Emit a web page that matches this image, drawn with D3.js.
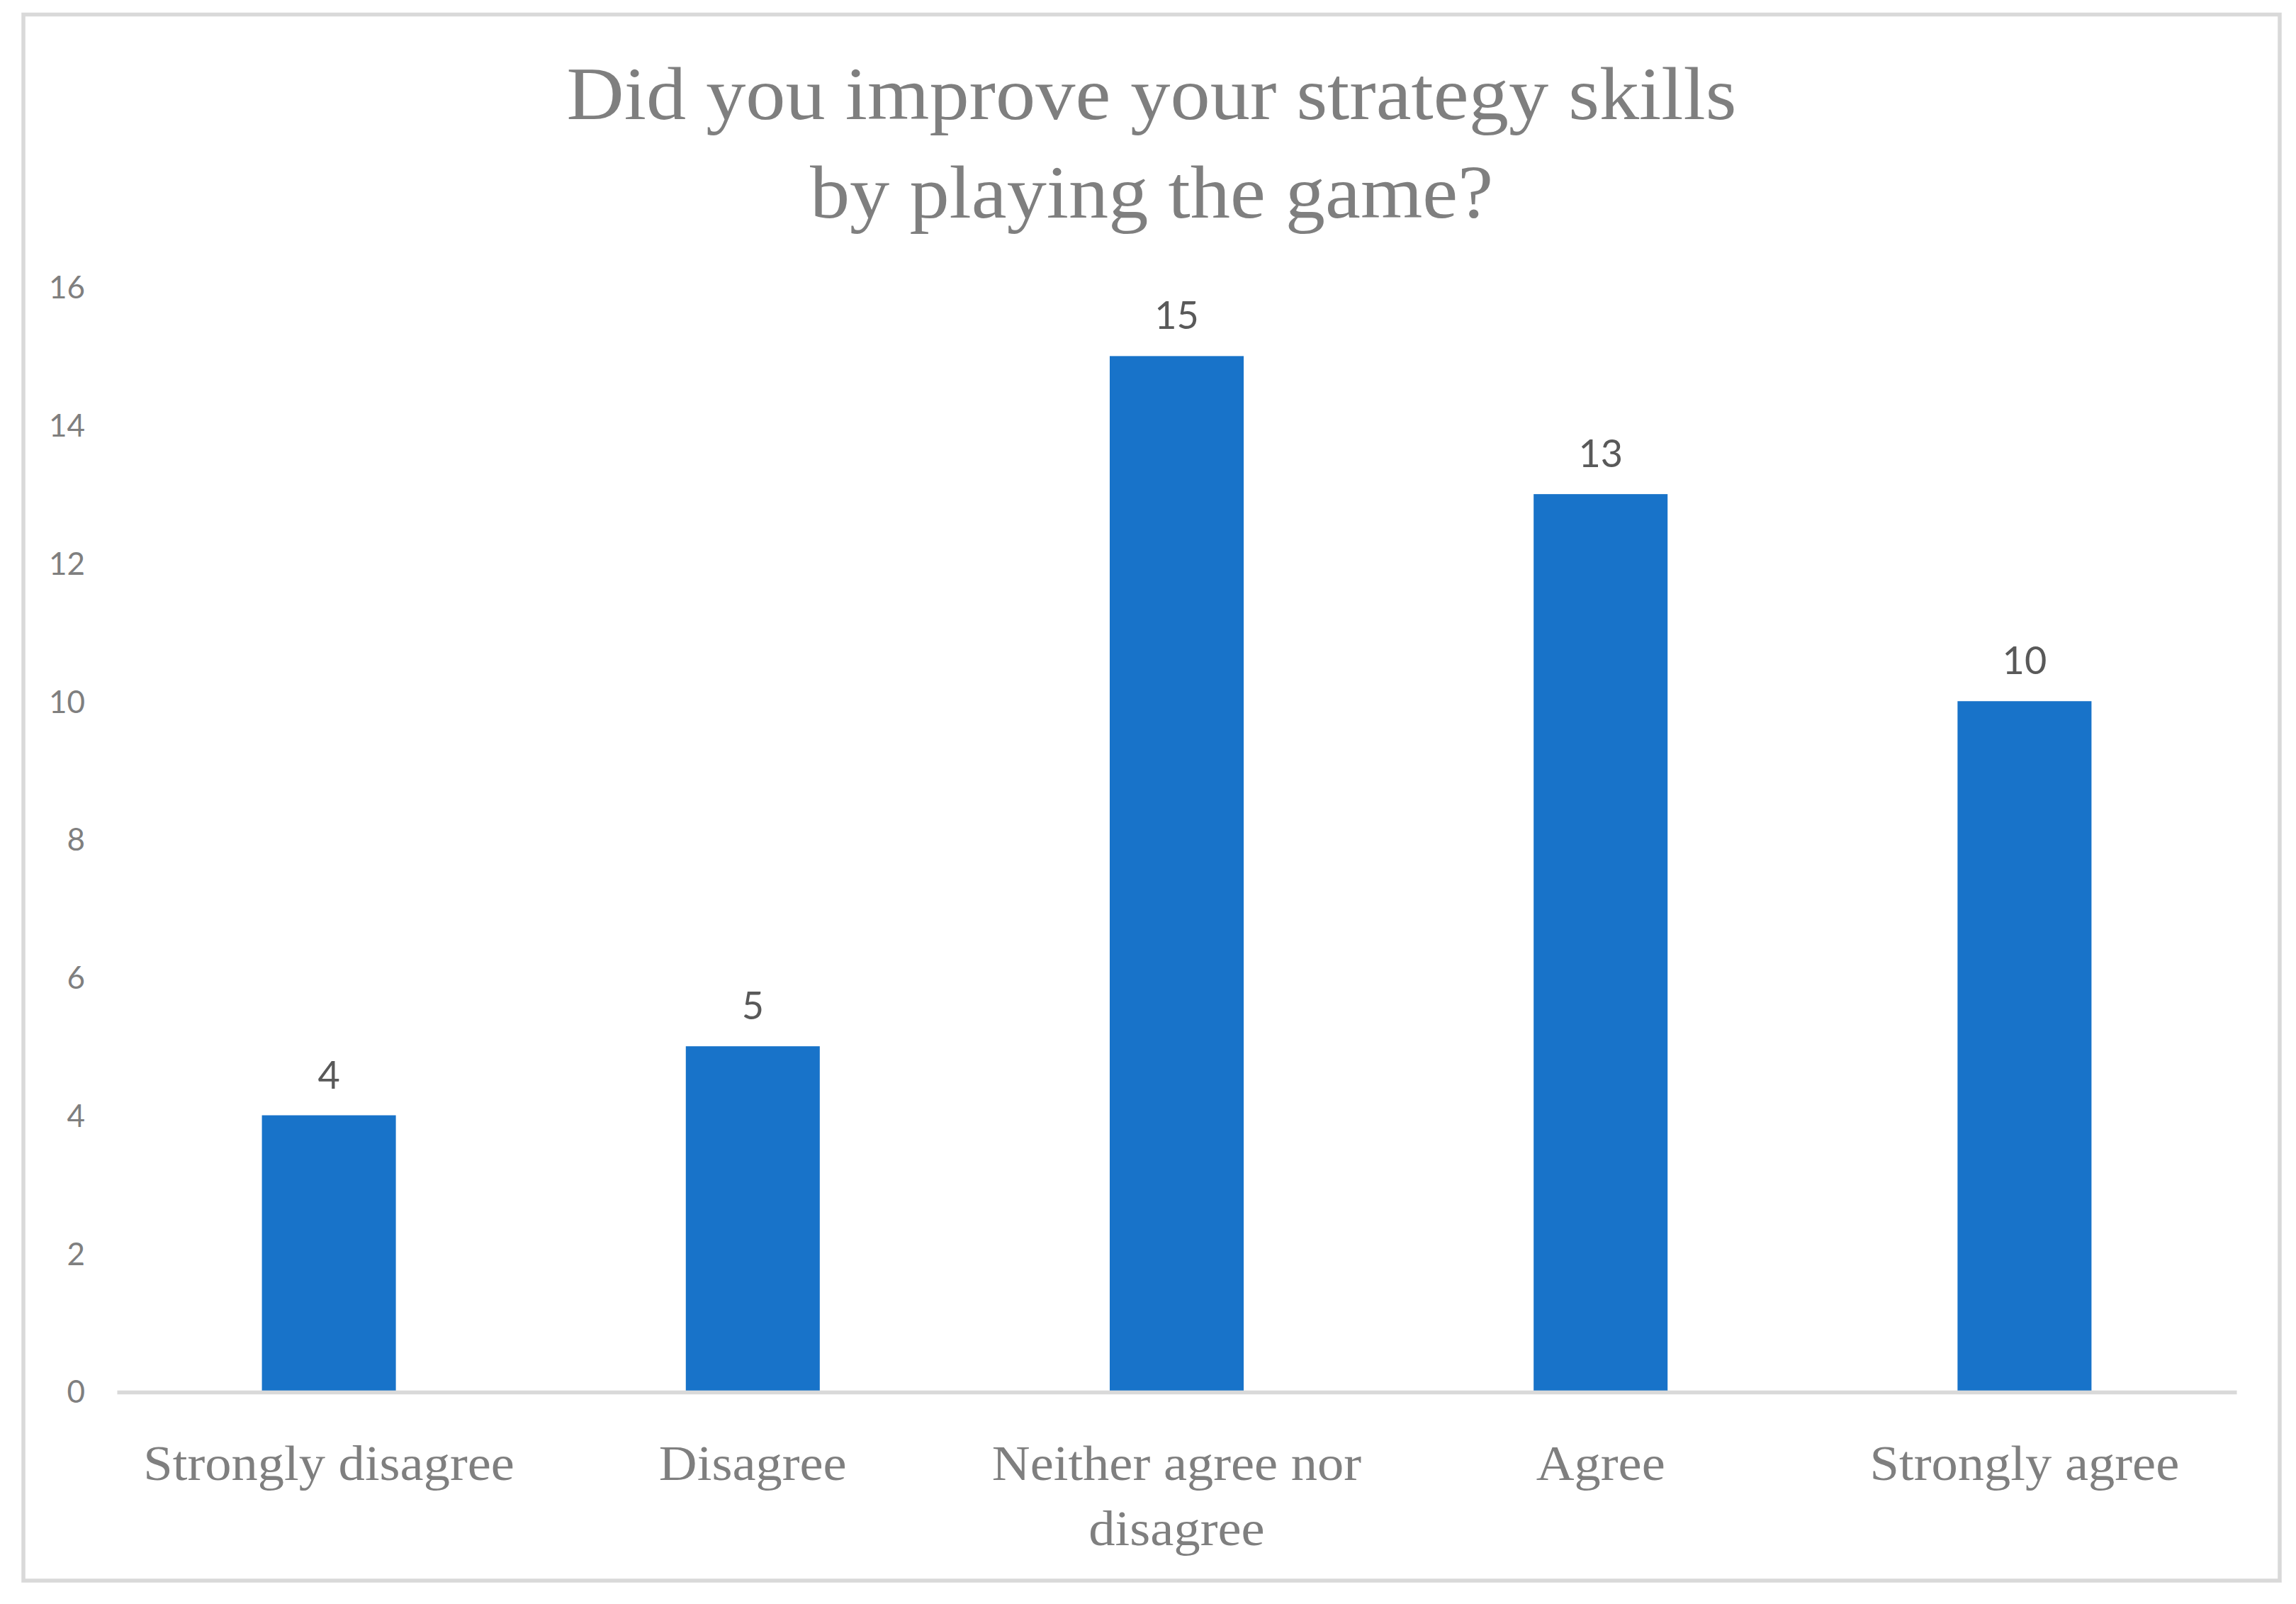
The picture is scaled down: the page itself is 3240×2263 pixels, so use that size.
<!DOCTYPE html>
<html>
<head>
<meta charset="utf-8">
<script src="https://cdn.jsdelivr.net/npm/d3@7"></script>
<style>
  html, body { margin: 0; padding: 0; background: #ffffff; }
  svg { display: block; }
</style>
</head>
<body>
<svg id="chart" width="3240" height="2263"></svg>
<script>
// ---- data ----
const categories = ["Strongly disagree", "Disagree", "Neither agree nor disagree", "Agree", "Strongly agree"];
const values = [4, 5, 15, 13, 10];
const yTicks = [0, 2, 4, 6, 8, 10, 12, 14, 16];
const titleLines = ["Did you improve your strategy skills", "by playing the game?"];

// ---- layout ----
const W = 3240, H = 2263;
const plot = { left: 165, right: 3156, top: 405, bottom: 1963 };
const serif = "'Liberation Serif', 'DejaVu Serif', serif";
const sans = "Lato, 'Open Sans', sans-serif";
const stretch = 1.08;

const svg = d3.select("#chart");
svg.append("rect").attr("width", W).attr("height", H).attr("fill", "#ffffff");

// chart frame
svg.append("rect")
  .attr("x", 33).attr("y", 20.5)
  .attr("width", 3217 - 33).attr("height", 2230 - 20.5)
  .attr("fill", "#ffffff").attr("stroke", "#d9d9d9").attr("stroke-width", 5.5);

// title
const title = svg.append("text")
  .attr("text-anchor", "middle")
  .attr("font-family", serif).attr("font-size", 106)
  .attr("fill", "#7f7f7f");
titleLines.forEach((t, i) => {
  title.append("tspan").attr("x", 1625).attr("y", 168 + i * 139).text(t);
});
title.selectAll("tspan").each(function () {
  const len = this.getComputedTextLength();
  d3.select(this).attr("textLength", len * 1.06).attr("lengthAdjust", "spacingAndGlyphs");
});

// scales
const x = d3.scaleBand()
  .domain(categories)
  .range([plot.left, plot.right])
  .paddingInner(0.684)
  .paddingOuter(0.342);

const y = d3.scaleLinear()
  .domain([0, 16])
  .range([plot.bottom, plot.top]);

// y axis (labels only)
const yAxis = svg.append("g")
  .attr("transform", `translate(120,0)`)
  .call(d3.axisLeft(y).tickValues(yTicks).tickSize(0).tickPadding(0).tickFormat(d3.format("d")));
yAxis.select(".domain").remove();
yAxis.selectAll("text")
  .attr("font-family", sans).attr("font-size", 44)
  .attr("fill", "#7f7f7f").attr("dy", "0.36em");

// bars
svg.append("g").selectAll("rect")
  .data(values)
  .join("rect")
  .attr("x", (d, i) => x(categories[i]))
  .attr("width", x.bandwidth())
  .attr("y", d => y(d))
  .attr("height", d => y(0) - y(d))
  .attr("fill", "#1873c9");

// baseline / x axis
const xAxis = svg.append("g")
  .attr("transform", `translate(0,${plot.bottom + 1})`)
  .call(d3.axisBottom(x).tickSize(0).tickSizeOuter(0).tickFormat(""));
xAxis.select(".domain").attr("stroke", "#d9d9d9").attr("stroke-width", 5.5);
xAxis.selectAll(".tick text").remove();

// category labels with wrapping
const maxLabelWidth = x.step() * 0.95;
const catG = svg.append("g");
categories.forEach(cat => {
  const cx = x(cat) + x.bandwidth() / 2;
  const t = catG.append("text")
    .attr("text-anchor", "middle")
    .attr("font-family", serif).attr("font-size", 69)
    .attr("fill", "#7f7f7f");
  const words = cat.split(" ");
  let lines = [];
  let cur = [];
  words.forEach(w => {
    const trial = cur.concat([w]).join(" ");
    const probe = t.append("tspan").text(trial);
    const len = probe.node().getComputedTextLength() * stretch;
    probe.remove();
    if (len > maxLabelWidth && cur.length) {
      lines.push(cur.join(" "));
      cur = [w];
    } else {
      cur.push(w);
    }
  });
  if (cur.length) lines.push(cur.join(" "));
  lines.forEach((ln, i) => {
    const ts = t.append("tspan").attr("x", cx).attr("y", 2088 + i * 92).text(ln);
    const len = ts.node().getComputedTextLength();
    ts.attr("textLength", len * stretch).attr("lengthAdjust", "spacingAndGlyphs");
  });
});

// data labels
svg.append("g").selectAll("text")
  .data(values)
  .join("text")
  .attr("x", (d, i) => x(categories[i]) + x.bandwidth() / 2)
  .attr("y", d => y(d) - 38)
  .attr("text-anchor", "middle")
  .attr("font-family", sans).attr("font-size", 54)
  .attr("fill", "#595959")
  .text(d => d);
</script>
</body>
</html>
